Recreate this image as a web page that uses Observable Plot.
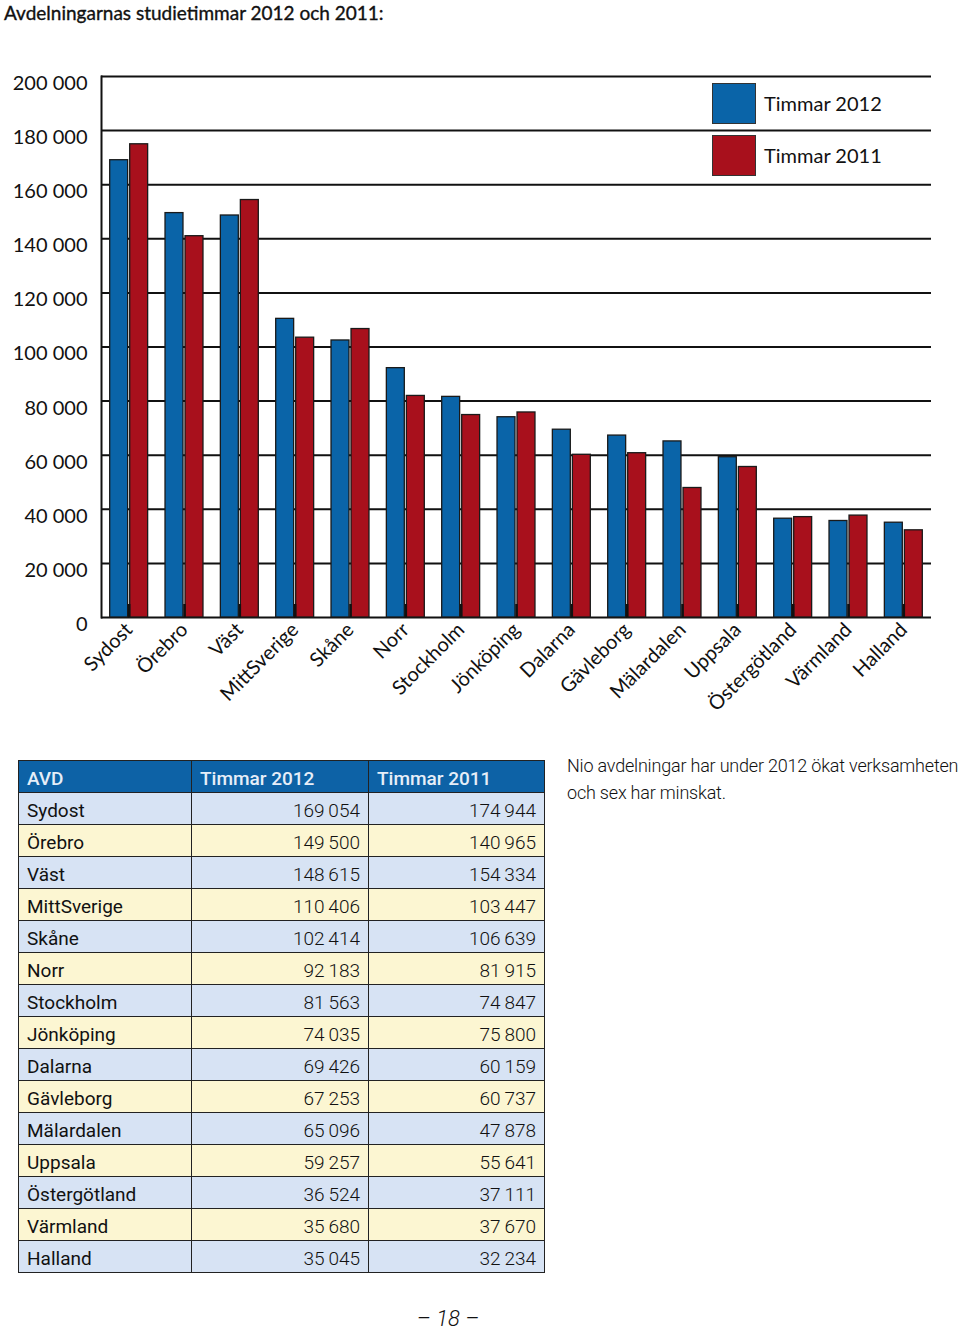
<!DOCTYPE html>
<html>
<head>
<meta charset="utf-8">
<script src="https://cdn.jsdelivr.net/npm/d3@7"></script>
<script src="https://cdn.jsdelivr.net/npm/@observablehq/plot@0.6"></script>
<style>
  html, body { margin: 0; padding: 0; background: #fff; }
  #page { position: relative; width: 960px; height: 1330px; overflow: hidden; font-family: Lato, sans-serif; color: #111; }
  #title { position: absolute; left: 4px; top: 1px; font-size: 19px; font-family: Lato, sans-serif; font-weight: 400; white-space: nowrap; -webkit-text-stroke: 0.35px #111; }
  #chart { position: absolute; left: 0; top: 40px; }
  #legend { position: absolute; left: 712px; top: 83px; }
  .lg { position: relative; height: 52px; }
  .lg .sw { position: absolute; left: 0; top: 0; width: 44px; height: 41px; border: 1px solid #333; box-sizing: border-box; }
  .lg .tx { position: absolute; left: 52px; top: 8px; font-size: 20px; font-family: Lato, sans-serif; white-space: nowrap; }
  #tbl { position: absolute; left: 18px; top: 760px; border-collapse: collapse; font-family: Roboto, sans-serif; font-size: 19px; }
  #tbl td, #tbl th { border: 1.5px solid #222; height: 32px; padding: 3px 8px 0 8px; box-sizing: border-box; }
  #tbl th { background: #0d62a6; color: #e6eef8; font-weight: 500; text-align: left; }
  #tbl td.n { text-align: right; font-weight: 300; }
  #tbl td.c { font-weight: 400; }
  #tbl tr.b td { background: #d7e3f4; }
  #tbl tr.y td { background: #fcf6d2; }
  #note { position: absolute; left: 567px; top: 752px; font-family: Roboto, sans-serif; font-weight: 300; font-size: 18px; line-height: 27px; letter-spacing: -0.2px; white-space: nowrap; }
  #pageno { position: absolute; left: 0; width: 896px; text-align: center; top: 1306px; font-family: Roboto, sans-serif; font-style: italic; font-weight: 300; font-size: 22px; }
</style>
</head>
<body>
<div id="page">
  <div id="title">Avdelningarnas studietimmar 2012 och 2011:</div>
  <div id="chart"></div>
  <div id="legend"></div>
  <table id="tbl"></table>
  <div id="note">Nio avdelningar har under 2012 ökat verksamheten<br>och sex har minskat.</div>
  <div id="pageno">– 18 –</div>
</div>
<script>
const categories = ["Sydost","Örebro","Väst","MittSverige","Skåne","Norr","Stockholm","Jönköping","Dalarna","Gävleborg","Mälardalen","Uppsala","Östergötland","Värmland","Halland"];
const hours2012 = [169054,149500,148615,110406,102414,92183,81563,74035,69426,67253,65096,59257,36524,35680,35045];
const hours2011 = [174944,140965,154334,103447,106639,81915,74847,75800,60159,60737,47878,55641,37111,37670,32234];
const seriesNames = ["Timmar 2012", "Timmar 2011"];
const seriesColors = ["#0a64a8", "#a8101c"];
const yTicks = [0,20000,40000,60000,80000,100000,120000,140000,160000,180000,200000];
const tableHeader = ["AVD", "Timmar 2012", "Timmar 2011"];

const fmt = d => d3.format(",")(d).replace(/,/g, " ");
const fmtTbl = d => d3.format(",")(d).replace(/,/g, "\u2009");

const data2012 = categories.map((c, i) => ({cat: c, v: hours2012[i]}));
const data2011 = categories.map((c, i) => ({cat: c, v: hours2011[i]}));

const chart = Plot.plot({
  width: 960,
  height: 700,
  marginTop: 36,
  marginBottom: 123,
  marginLeft: 101,
  marginRight: 29,
  style: {fontFamily: "Lato, sans-serif", fontSize: "20px", color: "#111", background: "transparent"},
  x: {domain: categories, paddingInner: 0.314, paddingOuter: 0.157, round: false, label: null},
  y: {domain: [0, 200000], label: null},
  marks: [
    Plot.ruleY(yTicks, {stroke: "#111", strokeWidth: 2}),
    Plot.barY(data2012, {x: "cat", y: "v", fill: seriesColors[0], stroke: "#1a1a1a", strokeWidth: 1.3, insetRight: 20}),
    Plot.barY(data2011, {x: "cat", y: "v", fill: seriesColors[1], stroke: "#1a1a1a", strokeWidth: 1.3, insetLeft: 20}),
    Plot.axisX({tickSize: -13, tickFormat: () => "", strokeWidth: 2.5, stroke: "#111"}),
    Plot.axisX({tickSize: 0, tickRotate: -45, tickPadding: 9, fontSize: 20, label: null}),
    Plot.axisY({ticks: yTicks, tickSize: 0, tickPadding: 14, tickFormat: fmt, fontSize: 20, dy: 7, label: null}),
    Plot.frame({anchor: "left", stroke: "#111", strokeWidth: 2})
  ]
});
document.getElementById("chart").appendChild(chart);

const legend = document.getElementById("legend");
seriesNames.forEach((name, i) => {
  const row = document.createElement("div");
  row.className = "lg";
  row.innerHTML = `<div class="sw" style="background:${seriesColors[i]}"></div><div class="tx">${name}</div>`;
  legend.appendChild(row);
});

const tbl = document.getElementById("tbl");
const colW = [173, 177, 176];
const hr = document.createElement("tr");
tableHeader.forEach((h, j) => {
  const th = document.createElement("th");
  th.textContent = h;
  th.style.width = colW[j] + "px";
  hr.appendChild(th);
});
tbl.appendChild(hr);
categories.forEach((c, i) => {
  const tr = document.createElement("tr");
  tr.className = i % 2 === 0 ? "b" : "y";
  tr.innerHTML = `<td class="c">${c}</td><td class="n">${fmtTbl(hours2012[i])}</td><td class="n">${fmtTbl(hours2011[i])}</td>`;
  tbl.appendChild(tr);
});
</script>
</body>
</html>
